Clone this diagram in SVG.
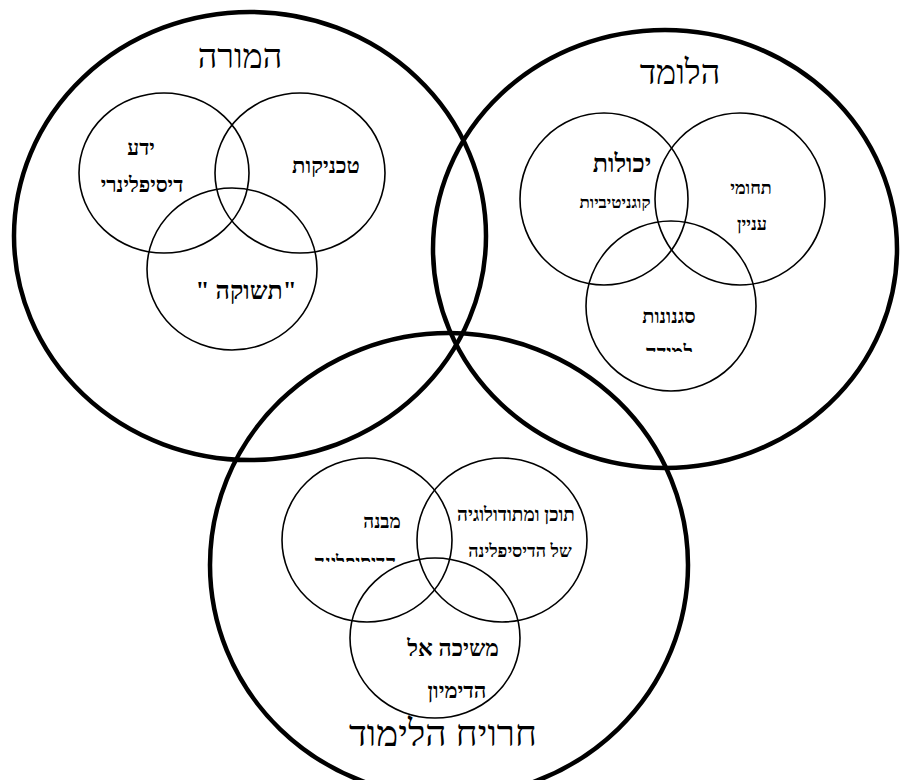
<svg xmlns="http://www.w3.org/2000/svg" width="900" height="780" viewBox="0 0 900 780">
<style>
.big{fill:none;stroke:#000;stroke-width:4.5}
.small{fill:none;stroke:#000;stroke-width:1.6}
text{font-family:"Liberation Serif","DejaVu Serif","Noto Sans",serif;fill:#000;direction:rtl;text-anchor:middle}
.title{font-size:34px}
.t{font-size:18px;font-weight:bold}
.m{font-size:21px;font-weight:bold}
.l{font-size:23px;font-weight:bold}
</style>
<defs>
<clipPath id="clipA"><rect x="600" y="300" width="150" height="52"/></clipPath>
<clipPath id="clipB"><rect x="280" y="530" width="150" height="32"/></clipPath>
</defs>
<rect width="900" height="780" fill="#fff"/>
<g id="teacher">
<ellipse class="big" cx="250" cy="236" rx="236" ry="224"/>
<text class="title" x="240" y="68">המורה</text>
</g>
<g id="learner">
<ellipse class="big" cx="665" cy="249" rx="232" ry="219"/>
<text class="title" x="680" y="84">הלומד</text>
</g>
<g id="experience">
<ellipse class="big" cx="449" cy="565" rx="239" ry="232"/>
<text class="title" style="font-size:37px" x="443" y="746">חרויח הלימוד</text>
</g>
<g id="knowledge">
<ellipse class="small" cx="164" cy="173" rx="85" ry="80"/>
<text class="m" x="141" y="155">ידע</text>
<text class="m" x="142" y="192">דיסיפלינרי</text>
</g>
<g id="techniques">
<ellipse class="small" cx="300" cy="173" rx="85" ry="80"/>
<text class="l" style="font-size:22px" x="326" y="173">טכניקות</text>
</g>
<g id="passion">
<ellipse class="small" cx="232" cy="269" rx="85" ry="81"/>
<text class="l" style="font-size:25px" x="246" y="299">"תשוקה "</text>
</g>
<g id="abilities">
<ellipse class="small" cx="604" cy="199" rx="84" ry="86"/>
<text class="l" style="font-size:25px" x="622" y="172">יכולות</text>
<text class="t" style="font-size:17px" x="615" y="208">קוגניטיביות</text>
</g>
<g id="interests">
<ellipse class="small" cx="740" cy="199" rx="85" ry="86"/>
<text class="t" x="751" y="194">תחומי</text>
<text class="t" x="752" y="230">עניין</text>
</g>
<g id="styles">
<ellipse class="small" cx="671" cy="306" rx="85" ry="85"/>
<text class="t" style="font-size:20px" x="669" y="323">סגנונות</text>
<text class="t" style="font-size:20px" x="669" y="359" clip-path="url(#clipA)">למידה</text>
</g>
<g id="structure">
<ellipse class="small" cx="367" cy="540" rx="85" ry="82"/>
<text class="t" style="font-size:19px" x="382" y="528">מבנה</text>
<text class="t" style="font-size:19px" x="355" y="569" clip-path="url(#clipB)">הדיסיפלינה</text>
</g>
<g id="content">
<ellipse class="small" cx="502" cy="540" rx="85" ry="82"/>
<text class="t" style="font-size:19px" x="516" y="521">תוכן ומתודולוגיה</text>
<text class="t" x="520" y="557">של הדיסיפלינה</text>
</g>
<g id="imagination">
<ellipse class="small" cx="435" cy="638" rx="85" ry="80"/>
<text class="l" x="453" y="656">משיכה אל</text>
<text class="m" style="font-size:22px" x="457" y="698">הדימיון</text>
</g>
<g id="connectors"></g>
</svg>
